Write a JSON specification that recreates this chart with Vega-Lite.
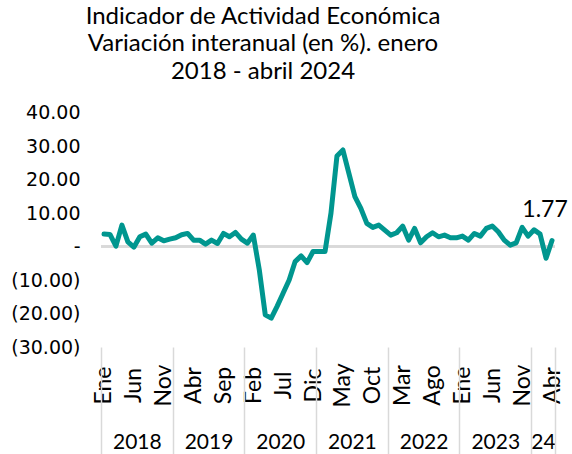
{
  "$schema": "https://vega.github.io/schema/vega-lite/v6.json",
  "width": 454,
  "height": 234.5,
  "autosize": {"type": "none"},
  "padding": {"left": 101, "top": 112.5, "right": 17, "bottom": 107},
  "background": "white",
  "title": {
    "text": ["Indicador de Actividad Económica", "Variación interanual (en %). enero", "2018 - abril 2024"],
    "font": "Lato",
    "fontSize": 24,
    "fontWeight": "normal",
    "color": "black",
    "lineHeight": 27.5,
    "anchor": "middle",
    "dx": -65,
    "offset": 20
  },
  "data": {
    "values": [
      {"t": 0, "value": 3.7}, {"t": 1, "value": 3.6}, {"t": 2, "value": 0.1}, {"t": 3, "value": 6.4},
      {"t": 4, "value": 1.4}, {"t": 5, "value": -0.2}, {"t": 6, "value": 2.9}, {"t": 7, "value": 3.7},
      {"t": 8, "value": 1.0}, {"t": 9, "value": 2.6}, {"t": 10, "value": 1.7}, {"t": 11, "value": 2.2},
      {"t": 12, "value": 2.6}, {"t": 13, "value": 3.5}, {"t": 14, "value": 3.9}, {"t": 15, "value": 1.9},
      {"t": 16, "value": 1.9}, {"t": 17, "value": 0.7}, {"t": 18, "value": 1.9}, {"t": 19, "value": 0.9},
      {"t": 20, "value": 3.9}, {"t": 21, "value": 2.9}, {"t": 22, "value": 4.2}, {"t": 23, "value": 2.2},
      {"t": 24, "value": 1.0}, {"t": 25, "value": 3.4}, {"t": 26, "value": -7.0}, {"t": 27, "value": -20.4},
      {"t": 28, "value": -21.4}, {"t": 29, "value": -17.8}, {"t": 30, "value": -13.9}, {"t": 31, "value": -10.0},
      {"t": 32, "value": -4.5}, {"t": 33, "value": -2.8}, {"t": 34, "value": -4.8}, {"t": 35, "value": -1.5},
      {"t": 36, "value": -1.5}, {"t": 37, "value": -1.5}, {"t": 38, "value": 10.0}, {"t": 39, "value": 27.0},
      {"t": 40, "value": 28.8}, {"t": 41, "value": 21.8}, {"t": 42, "value": 14.9}, {"t": 43, "value": 11.4},
      {"t": 44, "value": 6.9}, {"t": 45, "value": 5.7}, {"t": 46, "value": 6.4}, {"t": 47, "value": 4.9},
      {"t": 48, "value": 3.4}, {"t": 49, "value": 4.1}, {"t": 50, "value": 6.1}, {"t": 51, "value": 1.9},
      {"t": 52, "value": 5.4}, {"t": 53, "value": 1.1}, {"t": 54, "value": 2.9}, {"t": 55, "value": 4.1},
      {"t": 56, "value": 2.9}, {"t": 57, "value": 3.4}, {"t": 58, "value": 2.6}, {"t": 59, "value": 2.6},
      {"t": 60, "value": 3.1}, {"t": 61, "value": 1.9}, {"t": 62, "value": 3.9}, {"t": 63, "value": 3.1},
      {"t": 64, "value": 5.4}, {"t": 65, "value": 6.1}, {"t": 66, "value": 4.4}, {"t": 67, "value": 1.9},
      {"t": 68, "value": 0.4}, {"t": 69, "value": 1.1}, {"t": 70, "value": 5.7}, {"t": 71, "value": 3.1},
      {"t": 72, "value": 5.0}, {"t": 73, "value": 3.7}, {"t": 74, "value": -3.5}, {"t": 75, "value": 1.77}
    ]
  },
  "layer": [
    {
      "mark": {"type": "rule", "color": "#d9d9d9", "strokeWidth": 2},
      "encoding": {
        "x": {"datum": -0.5, "type": "quantitative", "scale": {"domain": [-0.5, 75.5], "nice": false, "zero": false},
          "axis": {"orient": "bottom", "values": [5.5, 17.5, 29.5, 41.5, 53.5, 65.5, 73.5],
            "labelExpr": "datum.value == 73.5 ? '24' : toString(2018 + floor(datum.value / 12))",
            "ticks": false, "domain": false, "grid": false, "title": null,
            "labelFont": "Lato", "labelFontSize": 21, "labelColor": "black",
            "labelAngle": 0, "labelAlign": "center", "labelBaseline": "middle",
            "labelPadding": 95, "labelFlush": false, "labelOverlap": false}},
        "x2": {"datum": 75.5},
        "y": {"datum": 0, "type": "quantitative",
          "axis": {"values": [-30, -20, -10, 0, 10, 20, 30, 40],
            "labelExpr": "datum.value > 0 ? format(datum.value, '.2f') + '\u2008' : (datum.value < 0 ? '(' + format(-datum.value, '.2f') + ')' : '-\u2007\u2007\u2008')",
            "ticks": false, "domain": false, "grid": false, "title": null,
            "labelFont": "DejaVu Sans", "labelFontSize": 19, "labelColor": "black",
            "labelPadding": 21, "labelFlush": false, "labelOverlap": false}}
      }
    },
    {
      "mark": {"type": "line", "color": "#00968f", "strokeWidth": 5, "strokeJoin": "round", "strokeCap": "round"},
      "encoding": {
        "x": {"field": "t", "type": "quantitative", "scale": {"domain": [-0.5, 75.5], "nice": false, "zero": false},
          "axis": {"orient": "bottom", "values": [0, 5, 10, 15, 20, 25, 30, 35, 40, 45, 50, 55, 60, 65, 70, 75],
            "labelExpr": "['Ene','Feb','Mar','Abr','May','Jun','Jul','Ago','Sep','Oct','Nov','Dic'][datum.value % 12]",
            "ticks": false, "domain": false, "grid": false, "title": null,
            "labelFont": "Lato", "labelFontSize": 23, "labelColor": "black",
            "labelAngle": -90, "labelAlign": "center", "labelBaseline": "middle",
            "labelPadding": 38, "labelFlush": false, "labelOverlap": false}},
        "y": {"field": "value", "type": "quantitative",
          "scale": {"domain": [-30, 40], "nice": false, "zero": false},
          "axis": {"values": [-30, -20, -10, 0, 10, 20, 30, 40],
            "labelExpr": "datum.value > 0 ? format(datum.value, '.2f') + '\u2008' : (datum.value < 0 ? '(' + format(-datum.value, '.2f') + ')' : '-\u2007\u2007\u2008')",
            "ticks": false, "domain": false, "grid": false, "title": null,
            "labelFont": "DejaVu Sans", "labelFontSize": 19, "labelColor": "black",
            "labelPadding": 21, "labelFlush": false, "labelOverlap": false}}
      }
    },
    {
      "transform": [{"filter": "datum.t == 75"}],
      "mark": {"type": "text", "font": "Lato", "fontSize": 23, "color": "black", "align": "center", "baseline": "middle", "dx": -7, "dy": -31},
      "encoding": {
        "x": {"field": "t", "type": "quantitative",
          "axis": {"orient": "bottom", "values": [-0.5, 11.5, 23.5, 35.5, 47.5, 59.5, 71.5, 75.5],
            "labels": false, "ticks": true, "tickSize": 107, "tickColor": "#d9d9d9", "tickWidth": 1.5,
            "domain": false, "grid": false, "title": null}},
        "y": {"field": "value", "type": "quantitative",
          "axis": {"values": [-30, -20, -10, 0, 10, 20, 30, 40],
            "labelExpr": "datum.value > 0 ? format(datum.value, '.2f') + '\u2008' : (datum.value < 0 ? '(' + format(-datum.value, '.2f') + ')' : '-\u2007\u2007\u2008')",
            "ticks": false, "domain": false, "grid": false, "title": null,
            "labelFont": "DejaVu Sans", "labelFontSize": 19, "labelColor": "black",
            "labelPadding": 21, "labelFlush": false, "labelOverlap": false}},
        "text": {"field": "value", "type": "quantitative", "format": ".2f"}
      }
    }
  ],
  "resolve": {"axis": {"x": "independent"}},
  "config": {"view": {"stroke": null}, "axis": {"labelOverlap": false}}
}
